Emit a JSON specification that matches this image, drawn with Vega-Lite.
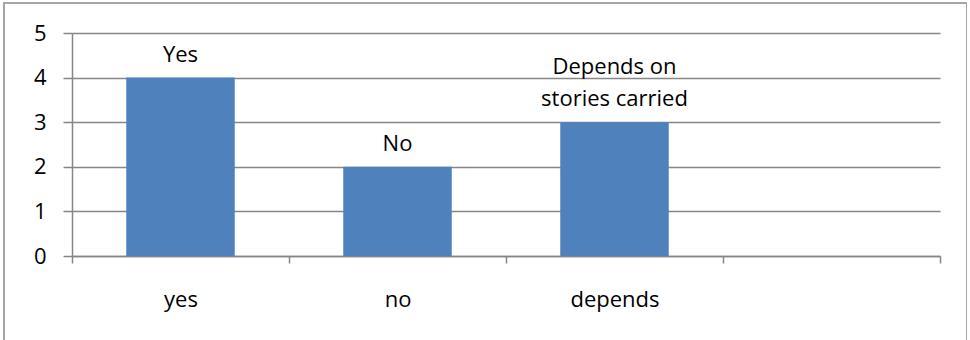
{
  "$schema": "https://vega.github.io/schema/vega-lite/v6.json",
  "autosize": {"type": "none"},
  "width": 963,
  "height": 400,
  "padding": {"left": 4, "top": 3, "right": 0, "bottom": 0},
  "background": "white",
  "data": {
    "values": [
      {"answer": "yes", "count": 4, "line1": "", "line2": "Yes"},
      {"answer": "no", "count": 2, "line1": "", "line2": "No"},
      {"answer": "depends", "count": 3, "line1": "Depends on", "line2": "stories carried"}
    ]
  },
  "encoding": {
    "x": {
      "field": "answer",
      "type": "nominal",
      "sort": null,
      "scale": {"domain": ["yes", "no", "depends", ""], "range": [68, 936], "paddingInner": 0, "paddingOuter": 0},
      "axis": {
        "title": null,
        "labelAngle": 0,
        "tickBand": "extent",
        "tickSize": 7,
        "labelPadding": 26,
        "offset": -147,
        "grid": false
      }
    },
    "y": {
      "field": "count",
      "type": "quantitative",
      "scale": {"domain": [0, 5], "range": [253, 30]},
      "axis": {
        "title": null,
        "values": [0, 1, 2, 3, 4, 5],
        "tickSize": 9,
        "labelPadding": 17,
        "offset": -68,
        "grid": true
      }
    }
  },
  "layer": [
    {"mark": {"type": "bar", "color": "#4f81bd", "width": {"band": 0.5}}},
    {
      "mark": {
        "type": "text",
        "baseline": "alphabetic",
        "dy": -16,
        "font": "Open Sans",
        "fontSize": 22,
        "color": "#000000"
      },
      "encoding": {"text": {"field": "line2"}}
    },
    {
      "mark": {
        "type": "text",
        "baseline": "alphabetic",
        "dy": -48,
        "font": "Open Sans",
        "fontSize": 22,
        "color": "#000000"
      },
      "encoding": {"text": {"field": "line1"}}
    }
  ],
  "config": {
    "view": {"stroke": "#a6a6a6", "strokeWidth": 2},
    "axis": {
      "domainColor": "#868686",
      "tickColor": "#868686",
      "gridColor": "#868686",
      "domainWidth": 1.5,
      "tickWidth": 1.5,
      "gridWidth": 1.5,
      "labelFont": "Open Sans",
      "labelFontSize": 22,
      "labelColor": "#000000"
    }
  }
}
